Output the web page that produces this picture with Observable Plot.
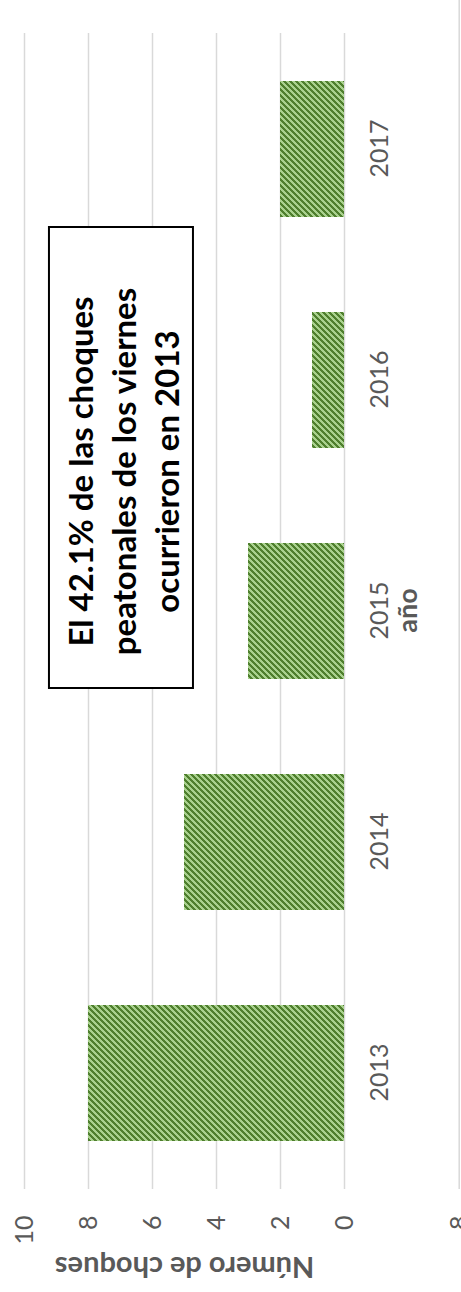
<!DOCTYPE html>
<html><head><meta charset="utf-8">
<script src="https://cdn.jsdelivr.net/npm/d3@7"></script>
<script src="https://cdn.jsdelivr.net/npm/@observablehq/plot@0.6"></script>
<style>
html,body{margin:0;padding:0;background:#fff;overflow:hidden;}
#wrap{position:relative;width:461px;height:1292px;overflow:hidden;}
#chart{position:absolute;left:0;top:0;width:1292px;height:461px;transform-origin:0 0;transform:translate(0,1292px) rotate(-90deg);}
</style></head><body><div id="wrap"><div id="chart"></div></div>
<script>
const years = ["2013", "2014", "2015", "2016", "2017"];
const counts = [8, 5, 3, 1, 2];
const valueTicks = [0, 2, 4, 6, 8, 10];
const yTitle = "Número de choques";
const xTitle = "año";
const annotationLines = ["El 42.1% de las choques", "peatonales de los viernes", "ocurrieron en 2013"];
const neighborTick = [-3.6];      // tick of the adjacent (cropped) chart
const neighborLabel = ["8"];

const data = years.map((year, i) => ({year, count: counts[i]}));

const plot = Plot.plot({
  width: 1292, height: 461,
  marginLeft: 103, marginRight: 33, marginTop: 24, marginBottom: 117,
  style: {fontFamily: "Lato, sans-serif", fontSize: "25px", color: "#595959", background: "#fff"},
  x: {domain: years, paddingInner: 0.412, paddingOuter: 0.206, label: null},
  y: {domain: [0, 10], label: null},
  marks: [
    Plot.gridY(valueTicks, {stroke: "#d9d9d9", strokeOpacity: 1, strokeWidth: 1.5}),
    Plot.barY(data, {x: "year", y: "count", fill: "url(#stripes)", inset: 0}),
    Plot.axisY(valueTicks, {tickSize: 0, tickPadding: 27, label: null}),
    Plot.axisX({tickSize: 0, tickPadding: 26, label: null}),
    Plot.text(neighborTick, {y: d => d, frameAnchor: "left", dx: -27, textAnchor: "end", text: (d, i) => neighborLabel[i], fill: "#595959"}),
    Plot.text([yTitle], {frameAnchor: "left", dx: -78, rotate: -90, textAnchor: "middle", fontWeight: "bold", fontSize: 29, fill: "#595959", lineAnchor: "middle"}),
    Plot.text([xTitle], {frameAnchor: "bottom", dy: 64, textAnchor: "middle", fontWeight: "bold", fontSize: 27, fill: "#595959", lineAnchor: "middle"}),
    Plot.text([{year: "2016", value: 6.94, text: annotationLines.join("\n")}], {
      x: "year", y: "value", dx: -92, text: "text", lineHeight: 1.3,
      fontSize: 33, fontWeight: "bold", fill: "#000", lineAnchor: "middle"
    })
  ]
});

const svg = d3.select(plot);
const xs = plot.scale("x"), ys = plot.scale("y");
const annotationNode = plot.lastChild;
const firstMark = plot.firstChild;

// neighbor chart gridline
svg.insert("line", () => firstMark)
  .attr("x1", 103).attr("x2", 1292)
  .attr("y1", ys.apply(neighborTick[0])).attr("y2", ys.apply(neighborTick[0]))
  .attr("stroke", "#d9d9d9").attr("stroke-width", 1.5);

// diagonal stripe pattern (6px period, 1px steps)
const defs = svg.insert("defs", () => plot.firstChild);
const pat = defs.append("pattern").attr("id", "stripes").attr("patternUnits", "userSpaceOnUse")
  .attr("width", 6).attr("height", 6);
pat.append("rect").attr("width", 6).attr("height", 6).attr("fill", "#a9d18e");
for (let r = 0; r < 6; r++) {
  for (let k = 0; k < 3; k++) {
    pat.append("rect").attr("x", ((5 - r + k) % 6 + 6) % 6).attr("y", r).attr("width", 1).attr("height", 1)
      .attr("fill", "#4f7f2e").attr("shape-rendering", "crispEdges");
  }
}

// annotation box
const boxLeft = xs.apply("2015") - 9, boxRight = xs.apply("2017") - 10;
const boxTop = ys.apply(9.22), boxBottom = ys.apply(4.72);
svg.insert("rect", () => annotationNode)
  .attr("x", boxLeft).attr("y", boxTop).attr("width", boxRight - boxLeft).attr("height", boxBottom - boxTop)
  .attr("fill", "#fff").attr("stroke", "#000").attr("stroke-width", 2);

document.getElementById("chart").appendChild(plot);
</script>
</body></html>
